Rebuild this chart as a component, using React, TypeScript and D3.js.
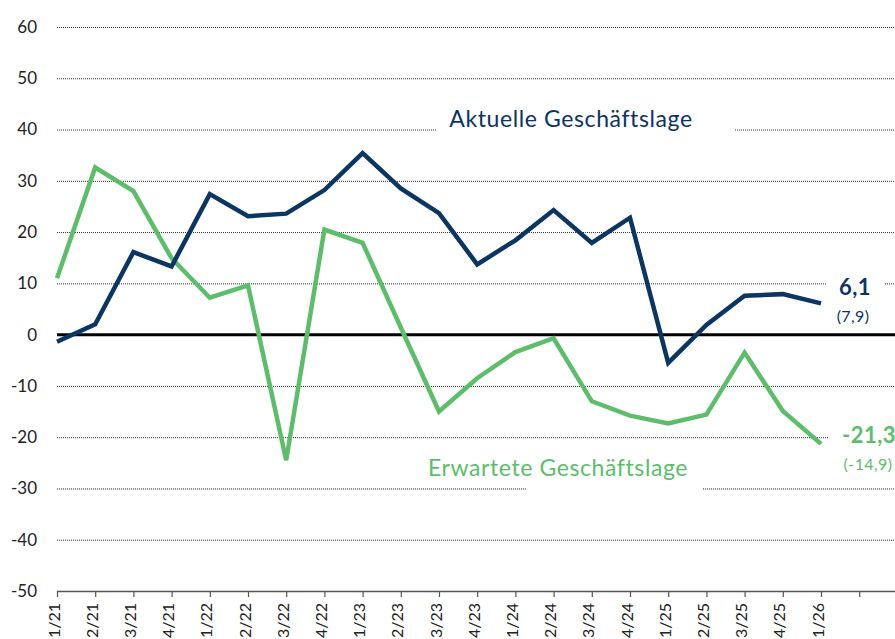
import React, { useEffect, useRef } from "react";
import * as d3 from "d3";

const quarters = [
  "1/21", "2/21", "3/21", "4/21",
  "1/22", "2/22", "3/22", "4/22",
  "1/23", "2/23", "3/23", "4/23",
  "1/24", "2/24", "3/24", "4/24",
  "1/25", "2/25", "3/25", "4/25",
  "1/26",
];
// one empty slot at the end of the axis
const slots = [...quarters, ""];

const aktuell = [
  -1.4, 2.0, 16.1, 13.3, 27.4, 23.1, 23.6, 28.2, 35.4, 28.5, 23.7,
  13.7, 18.4, 24.3, 17.9, 22.8, -5.5, 1.9, 7.6, 7.9, 6.1,
];
const erwartet = [
  11.0, 32.6, 28.0, 14.9, 7.2, 9.6, -24.5, 20.5, 17.9, 1.4, -15.0,
  -8.5, -3.4, -0.7, -13.0, -15.8, -17.3, -15.6, -3.5, -14.9, -21.3,
];
const yTicks = [60, 50, 40, 30, 20, 10, 0, -10, -20, -30, -40, -50];

const NAVY = "#0b3563";
const GREEN = "#5cbe6a";
const FONT = "Lato, 'Open Sans', sans-serif";

export default function App() {
  const ref = useRef<SVGSVGElement | null>(null);

  useEffect(() => {
    const svg = d3.select(ref.current);
    svg.selectAll("*").remove();

    const W = 895;
    const H = 639;
    const left = 57;
    const right = 900;

    const x = d3.scalePoint<string>().domain(slots).range([left, left + 21 * 38.2]);
    const y = d3.scaleLinear().domain([-50, 60]).range([591, 27]);

    // gridlines
    const grid = svg.append("g");
    yTicks
      .filter((t) => t !== 0 && t !== -50)
      .forEach((t) => {
        grid
          .append("line")
          .attr("x1", left)
          .attr("x2", right)
          .attr("y1", y(t) + 0.5)
          .attr("y2", y(t) + 0.5)
          .attr("stroke", "#2a2a2a")
          .attr("stroke-width", 1)
          .attr("stroke-dasharray", "1 1");
      });

    // bottom axis
    const axis = svg
      .append("g")
      .attr("transform", `translate(0,${y(-50)})`)
      .call(d3.axisBottom(x).tickSize(6).tickFormat(() => ""));
    axis.select(".domain").remove();
    axis.selectAll(".tick line").attr("stroke", "#555").attr("stroke-width", 1.2);
    axis
      .append("line")
      .attr("x1", left)
      .attr("x2", right)
      .attr("y1", 0.5)
      .attr("y2", 0.5)
      .attr("stroke", "#555")
      .attr("stroke-width", 1.5);

    // x labels, rotated
    svg
      .append("g")
      .selectAll("text")
      .data(quarters)
      .join("text")
      .attr("transform", (d) => `translate(${(x(d) ?? 0) - 3},603) rotate(-90)`)
      .attr("text-anchor", "end")
      .attr("dy", "0.35em")
      .attr("font-family", FONT)
      .attr("font-size", 16)
      .attr("fill", "#222")
      .text((d) => d);

    // y labels
    svg
      .append("g")
      .selectAll("text")
      .data(yTicks)
      .join("text")
      .attr("x", 37)
      .attr("y", (d) => y(d))
      .attr("dy", "0.35em")
      .attr("text-anchor", "end")
      .attr("font-family", FONT)
      .attr("font-size", 17)
      .attr("fill", "#222")
      .text((d) => String(d));

    // zero line
    svg
      .append("line")
      .attr("x1", left)
      .attr("x2", right)
      .attr("y1", y(0))
      .attr("y2", y(0))
      .attr("stroke", "#000")
      .attr("stroke-width", 3);

    // series
    const line = d3
      .line<number>()
      .x((_, i) => x(quarters[i]) ?? 0)
      .y((d) => y(d));

    svg
      .append("path")
      .datum(erwartet)
      .attr("fill", "none")
      .attr("stroke", GREEN)
      .attr("stroke-width", 4.5)
      .attr("d", line);

    svg
      .append("path")
      .datum(aktuell)
      .attr("fill", "none")
      .attr("stroke", NAVY)
      .attr("stroke-width", 4.5)
      .attr("d", line);

    // series names with white background cutting the grid
    const names = svg.append("g");
    names
      .append("rect")
      .attr("x", 437)
      .attr("y", y(40) - 4)
      .attr("width", 297)
      .attr("height", 8)
      .attr("fill", "#fff");
    names
      .append("text")
      .attr("x", 571)
      .attr("y", 127)
      .attr("text-anchor", "middle")
      .attr("font-family", FONT)
      .attr("font-size", 23)
      .attr("letter-spacing", 0.6)
      .attr("fill", NAVY)
      .text("Aktuelle Geschäftslage");

    names
      .append("rect")
      .attr("x", 527)
      .attr("y", y(-30) - 4)
      .attr("width", 175)
      .attr("height", 8)
      .attr("fill", "#fff");
    names
      .append("text")
      .attr("x", 558)
      .attr("y", 476)
      .attr("text-anchor", "middle")
      .attr("font-family", FONT)
      .attr("font-size", 23)
      .attr("letter-spacing", 0.6)
      .attr("fill", GREEN)
      .text("Erwartete Geschäftslage");

    // end values
    const lastX = x(quarters[quarters.length - 1]) ?? 0;
    const ends = svg.append("g");
    ends
      .append("rect")
      .attr("x", lastX + 5)
      .attr("y", y(10) - 4)
      .attr("width", 58)
      .attr("height", 8)
      .attr("fill", "#fff");
    ends
      .append("text")
      .attr("x", lastX + 34)
      .attr("y", 295)
      .attr("text-anchor", "middle")
      .attr("font-family", FONT)
      .attr("font-weight", 700)
      .attr("font-size", 22)
      .attr("letter-spacing", 0.5)
      .attr("fill", NAVY)
      .text("6,1");
    ends
      .append("text")
      .attr("x", lastX + 32)
      .attr("y", 322)
      .attr("text-anchor", "middle")
      .attr("font-family", FONT)
      .attr("font-size", 16)
      .attr("letter-spacing", 0.4)
      .attr("fill", NAVY)
      .text("(7,9)");

    ends
      .append("rect")
      .attr("x", lastX + 8)
      .attr("y", y(-20) - 4)
      .attr("width", 80)
      .attr("height", 8)
      .attr("fill", "#fff");
    ends
      .append("text")
      .attr("x", lastX + 48)
      .attr("y", 443)
      .attr("text-anchor", "middle")
      .attr("font-family", FONT)
      .attr("font-weight", 700)
      .attr("font-size", 22)
      .attr("letter-spacing", 0.5)
      .attr("fill", GREEN)
      .text("-21,3");
    ends
      .append("text")
      .attr("x", lastX + 47)
      .attr("y", 470)
      .attr("text-anchor", "middle")
      .attr("font-family", FONT)
      .attr("font-size", 16)
      .attr("letter-spacing", 0.4)
      .attr("fill", GREEN)
      .text("(-14,9)");

    svg.attr("width", W).attr("height", H);
  }, []);

  return (
    <svg
      ref={ref}
      width={895}
      height={639}
      style={{ position: "absolute", left: 0, top: 0, background: "#fff" }}
    />
  );
}
